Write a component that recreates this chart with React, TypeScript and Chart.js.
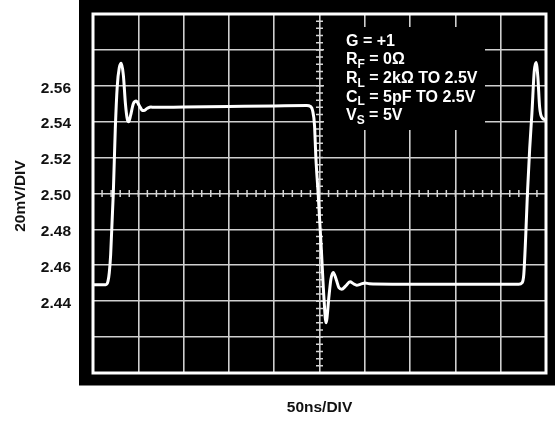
import React, { useEffect, useRef } from 'react';
import { Chart, registerables } from 'chart.js';

Chart.register(...registerables);

// Time axis (ns), 50ns per division
const timeNs = [
  0, 14, 16.5, 18, 19.5, 22.4, 24.6, 26.8, 29, 31.2, 33.5, 35.8, 37.8, 39.4, 41.5, 44.5, 47.8, 51, 54, 56, 60, 64, 67,
  100, 150, 200, 236, 240, 242.5, 244.5, 246, 248.5, 252, 255, 257.2, 260.5, 262.5, 265.2, 268.5, 271.5, 274.5,
  279, 283.7, 287.5, 291, 295.5, 300.2, 305, 310, 350, 400, 450, 470, 473.5, 475.5, 477.5, 479.5, 482, 484.5,
  487, 489, 491, 493, 496, 500,
];

// Output voltage (V), 20mV per division
const volts = [
  2.4492, 2.4492, 2.451, 2.456, 2.466, 2.5, 2.536, 2.56, 2.57, 2.5725, 2.566, 2.55, 2.5415, 2.54, 2.5435, 2.55,
  2.5515, 2.549, 2.5465, 2.5462, 2.5475, 2.5482, 2.548,
  2.5482, 2.5485, 2.5488, 2.549, 2.5485, 2.546, 2.538, 2.52, 2.5, 2.469, 2.441, 2.428, 2.443, 2.452, 2.456,
  2.452, 2.4475, 2.4467, 2.4485, 2.4508, 2.4497, 2.4489, 2.4495, 2.4502, 2.4497, 2.4496, 2.4495, 2.4494, 2.4494,
  2.4494, 2.4502, 2.455, 2.475, 2.5, 2.525, 2.545, 2.568, 2.573, 2.565, 2.548, 2.542, 2.541,
];

const yTickLabels = ['2.44', '2.46', '2.48', '2.50', '2.52', '2.54', '2.56'];
const xTitle = '50ns/DIV';
const yTitle = '20mV/DIV';
// [main, subscript, rest]
const noteLines = [
  ['G = +1', '', ''],
  ['R', 'F', ' = 0Ω'],
  ['R', 'L', ' = 2kΩ TO 2.5V'],
  ['C', 'L', ' = 5pF TO 2.5V'],
  ['V', 'S', ' = 5V'],
];

const X_MIN = 0;
const X_MAX = 500;
const Y_MIN = 2.4;
const Y_MAX = 2.6;

const FONT = '"Liberation Sans", Arial, Helvetica, sans-serif';

const scopePlugin: any = {
  id: 'scope',
  beforeDraw(chart: any) {
    const { ctx, chartArea: a, width, height } = chart;
    ctx.save();
    ctx.fillStyle = '#ffffff';
    ctx.fillRect(0, 0, width, height);
    ctx.fillStyle = '#000000';
    ctx.fillRect(a.left - 14, 0, width - (a.left - 14), a.bottom + 12.5);
    ctx.restore();
  },
  beforeDatasetsDraw(chart: any) {
    const { ctx, chartArea: a, scales } = chart;
    const xs = scales.x;
    const ys = scales.y;
    const cx = xs.getPixelForValue((X_MIN + X_MAX) / 2);
    const cy = ys.getPixelForValue((Y_MIN + Y_MAX) / 2);
    ctx.save();
    // center crosshair minor ticks
    ctx.strokeStyle = '#d6d6d6';
    ctx.lineWidth = 1.5;
    ctx.beginPath();
    for (let k = 0; k <= 50; k++) {
      const px = xs.getPixelForValue(X_MIN + (k * (X_MAX - X_MIN)) / 50);
      ctx.moveTo(px, cy - 3.5);
      ctx.lineTo(px, cy + 3.5);
    }
    for (let k = 0; k <= 50; k++) {
      const py = ys.getPixelForValue(Y_MIN + (k * (Y_MAX - Y_MIN)) / 50);
      ctx.moveTo(cx - 3.5, py);
      ctx.lineTo(cx + 3.5, py);
    }
    ctx.stroke();

    // black box behind annotation
    ctx.fillStyle = '#000000';
    ctx.fillRect(cx + 4.5, a.top + 13, 161, 103);

    // frame
    ctx.strokeStyle = '#ffffff';
    ctx.lineWidth = 3;
    ctx.strokeRect(a.left, a.top, a.right - a.left, a.bottom - a.top);

    // annotation text
    ctx.fillStyle = '#ffffff';
    ctx.textBaseline = 'alphabetic';
    ctx.textAlign = 'left';
    const x0 = cx + 26.5;
    noteLines.forEach((ln, i) => {
      const base = a.top + 31.7 + i * 18.6;
      let x = x0;
      ctx.font = `bold 16px ${FONT}`;
      ctx.fillText(ln[0], x, base);
      x += ctx.measureText(ln[0]).width;
      if (ln[1]) {
        ctx.font = `bold 12px ${FONT}`;
        ctx.fillText(ln[1], x, base + 3.6);
        x += ctx.measureText(ln[1]).width;
      }
      if (ln[2]) {
        ctx.font = `bold 16px ${FONT}`;
        ctx.fillText(ln[2], x, base);
      }
    });
    ctx.restore();
  },
  afterDraw(chart: any) {
    const { ctx, chartArea: a } = chart;
    ctx.save();
    ctx.fillStyle = '#111111';
    ctx.font = `bold 15.5px ${FONT}`;
    ctx.textAlign = 'center';
    ctx.textBaseline = 'middle';
    ctx.fillText(xTitle, (a.left + a.right) / 2, 407.5);
    ctx.translate(21, (a.top + a.bottom) / 2 + 2.5);
    ctx.rotate(-Math.PI / 2);
    ctx.fillText(yTitle, 0, 0);
    ctx.restore();
  },
};

export default function App() {
  const canvasRef = useRef<HTMLCanvasElement | null>(null);

  useEffect(() => {
    const canvas = canvasRef.current;
    if (!canvas) return;
    const chart = new Chart(canvas, {
      type: 'line',
      data: {
        datasets: [
          {
            data: timeNs.map((t, i) => ({ x: t, y: volts[i] })),
            borderColor: '#ffffff',
            borderWidth: 3,
            pointRadius: 0,
            cubicInterpolationMode: 'monotone',
            fill: false,
          },
        ],
      },
      options: {
        animation: false,
        responsive: false,
        layout: { padding: { top: 14, right: 9, left: 0, bottom: 0 } },
        plugins: { legend: { display: false }, tooltip: { enabled: false } },
        events: [],
        scales: {
          x: {
            type: 'linear',
            min: X_MIN,
            max: X_MAX,
            border: { display: false },
            grid: { color: '#cfcfcf', lineWidth: 1.6, drawTicks: false },
            ticks: { stepSize: 50, display: false },
            afterFit: (s: any) => {
              s.height = 52;
              s.paddingLeft = 0;
              s.paddingRight = 0;
            },
          },
          y: {
            type: 'linear',
            min: Y_MIN,
            max: Y_MAX,
            border: { display: false },
            grid: { color: '#cfcfcf', lineWidth: 1.6, drawTicks: false },
            ticks: {
              stepSize: 0.02,
              padding: 22,
              labelOffset: 2.5,
              color: '#111111',
              font: { family: FONT, size: 15.5, weight: 'bold' },
              callback: (v: any) => {
                const s = Number(v).toFixed(2);
                return yTickLabels.includes(s) ? s : '';
              },
            },
            afterFit: (s: any) => {
              s.width = 93;
              s.paddingTop = 0;
              s.paddingBottom = 0;
            },
          },
        },
      },
      plugins: [scopePlugin],
    } as any);
    return () => chart.destroy();
  }, []);

  return (
    <div style={{ position: 'absolute', left: 0, top: 0, width: 555, height: 425, background: '#fff' }}>
      <canvas ref={canvasRef} width={555} height={425} style={{ width: 555, height: 425, display: 'block' }} />
    </div>
  );
}
